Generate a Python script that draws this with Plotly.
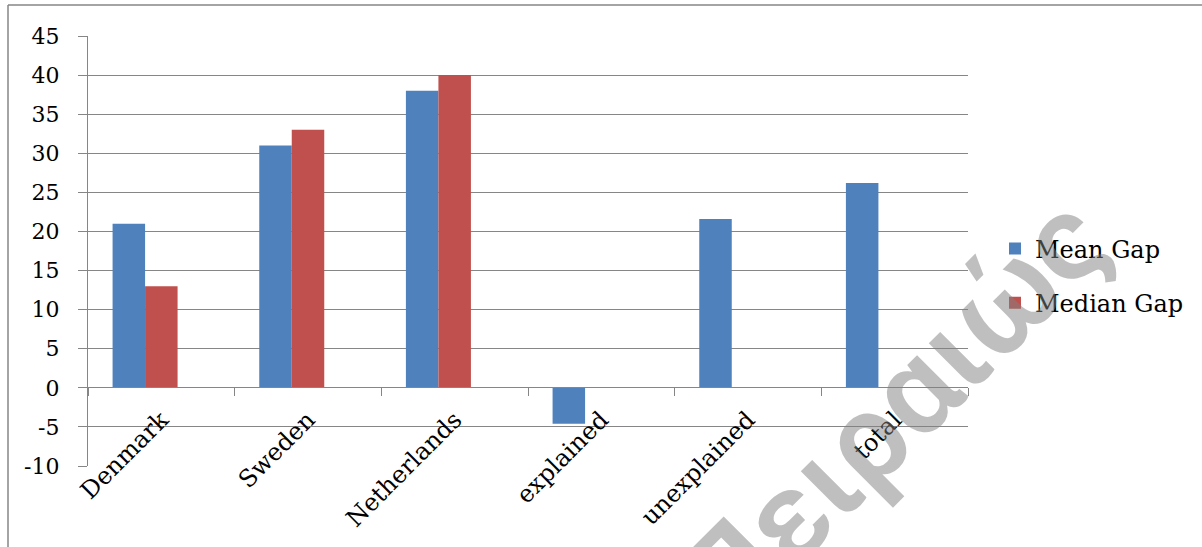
import plotly.graph_objects as go

categories = ["Denmark", "Sweden", "Netherlands", "explained", "unexplained", "total"]
mean_gap = [21, 31, 38, -4.6, 21.6, 26.2]
median_gap = [13, 33, 40, None, None, None]
y_ticks = list(range(-10, 50, 5))
y_tick_labels = [str(v) for v in y_ticks]  # plain hyphen for negatives

W, H = 1202, 547
L, R, T, B = 88, 968, 36, 466  # plot area in px

def px_x(p):
    return (p - L) / (R - L)

def px_y(p):
    return (B - p) / (B - T)

FONT = "DejaVu Serif"
GRID = "#868686"

fig = go.Figure()
fig.add_trace(go.Bar(
    x=categories, y=mean_gap, name="Mean Gap",
    marker=dict(color="#4F81BD", line=dict(width=0)),
    width=0.2216, offset=-0.3324, legendgroup="a",
))
fig.add_trace(go.Bar(
    x=categories, y=median_gap, name="Median Gap",
    marker=dict(color="#C0504D", line=dict(width=0)),
    width=0.2216, offset=-0.1108, legendgroup="b",
))

fig.update_layout(
    width=W, height=H,
    margin=dict(l=L, r=W - R, t=T, b=H - B, pad=0),
    paper_bgcolor="white", plot_bgcolor="white",
    barmode="overlay",
    font=dict(family=FONT, color="black", size=22),
    legend=dict(
        x=px_x(995), y=px_y(276), xanchor="left", yanchor="middle",
        font=dict(family=FONT, size=24, color="black"),
        tracegroupgap=20, bgcolor="rgba(0,0,0,0)",
    ),
    xaxis=dict(
        type="category", anchor="free", position=px_y(387),
        showline=True, linecolor=GRID, linewidth=1.3,
        ticks="outside", ticklen=8, tickcolor=GRID, tickwidth=1.3,
        tickson="boundaries", tickangle=-45,
        tickfont=dict(family=FONT, size=24),
        ticklabelstandoff=8,
        showgrid=False, range=[-0.5, 5.5],
    ),
    yaxis=dict(
        range=[-10, 45], tickvals=y_ticks, ticktext=y_tick_labels,
        showgrid=True, gridcolor=GRID, gridwidth=1.3,
        zeroline=False,
        showline=True, linecolor=GRID, linewidth=1.3,
        ticks="outside", ticklen=9, tickcolor=GRID, tickwidth=1.3,
        tickfont=dict(family=FONT, size=22),
        ticklabelstandoff=14,
    ),
)

# outer chart border (top and left edges visible)
fig.add_shape(type="line", xref="paper", yref="paper",
              x0=px_x(8), x1=px_x(1210), y0=px_y(5), y1=px_y(5),
              line=dict(color=GRID, width=1.5))
fig.add_shape(type="line", xref="paper", yref="paper",
              x0=px_x(8), x1=px_x(8), y0=px_y(5), y1=px_y(560),
              line=dict(color=GRID, width=1.5))

# watermark
fig.add_annotation(
    text="Πειραιώς", xref="paper", yref="paper",
    x=px_x(892), y=px_y(412), xanchor="center", yanchor="middle",
    showarrow=False, textangle=-45,
    font=dict(family="Roboto", size=124, weight=600,
              color="rgba(128,128,128,0.5)"),
)

fig.write_html("out.html", config={"displayModeBar": False},
               post_script="document.body.style.margin='0';")
